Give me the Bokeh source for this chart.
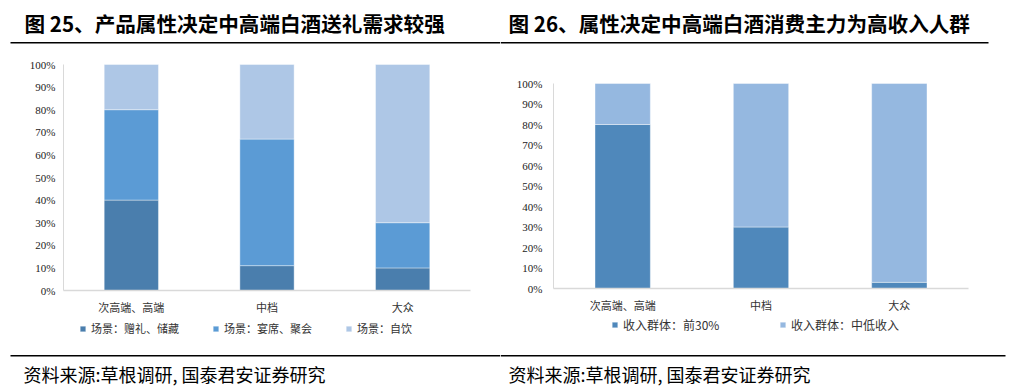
from bokeh.plotting import figure
from bokeh.models import (Range1d, FixedTicker, NumeralTickFormatter, LinearAxis,
                          Legend, LegendItem, Label, BoxAnnotation, ColumnDataSource)
from bokeh.layouts import row
from bokeh.embed import file_html
from bokeh.resources import INLINE

# ---------------- data ----------------
cats = ["次高端、高端", "中档", "大众"]

left_series = ["场景：赠礼、储藏", "场景：宴席、聚会", "场景：自饮"]
left_gift = [0.40, 0.11, 0.10]
left_banquet = [0.40, 0.56, 0.20]
left_self = [0.20, 0.33, 0.70]

right_series = ["收入群体：前30%", "收入群体：中低收入"]
right_top30 = [0.80, 0.30, 0.03]
right_low = [0.20, 0.70, 0.97]

title_left = "图 25、产品属性决定中高端白酒送礼需求较强"
title_right = "图 26、属性决定中高端白酒消费主力为高收入人群"
source_text = "资料来源:草根调研, 国泰君安证券研究"

y_ticks = [i / 10 for i in range(11)]

CJK = "Noto Sans CJK SC"
SERIF = "Liberation Serif"
H = 388


def chart(width, fig_left, plot_l, plot_r, plot_top, plot_bottom, ylab_standoff):
    """Figure whose frame is the whole canvas; chart area given in page pixels."""
    n = len(cats)
    ppx = (plot_r - plot_l) / n
    ppy = (plot_bottom - plot_top)
    x0 = -(plot_l - fig_left) / ppx
    x1 = n + (fig_left + width - plot_r) / ppx
    y0 = -(H - plot_bottom) / ppy
    y1 = 1 + plot_top / ppy
    p = figure(width=width, height=H, x_range=Range1d(x0, x1), y_range=Range1d(y0, y1),
               output_backend="svg", toolbar_location=None, min_border=0,
               x_axis_location=None, y_axis_location=None)
    p.outline_line_color = None
    for g in p.grid:
        g.visible = False

    ya = LinearAxis(fixed_location=0, bounds=(0, 1), ticker=FixedTicker(ticks=y_ticks),
                    formatter=NumeralTickFormatter(format="0%"))
    ya.major_label_text_font = SERIF
    ya.major_label_text_font_size = "11px"
    ya.major_label_text_color = "#222222"
    ya.major_label_standoff = ylab_standoff
    ya.major_tick_out = 0
    ya.major_tick_in = 0
    ya.minor_tick_out = 0
    ya.minor_tick_in = 0
    ya.major_tick_line_color = None
    ya.minor_tick_line_color = None
    ya.axis_line_color = "#d9d9d9"
    p.add_layout(ya, "left")

    xa = LinearAxis(fixed_location=0, bounds=(0, n),
                    ticker=FixedTicker(ticks=[i + 0.5 for i in range(n)]),
                    major_label_overrides={i + 0.5: c for i, c in enumerate(cats)})
    xa.major_label_text_font = CJK
    xa.major_label_text_font_size = "11px"
    xa.major_label_text_color = "#333333"
    xa.major_label_standoff = 8
    xa.major_tick_out = 0
    xa.major_tick_in = 0
    xa.minor_tick_out = 0
    xa.minor_tick_in = 0
    xa.major_tick_line_color = None
    xa.minor_tick_line_color = None
    xa.axis_line_color = "#d9d9d9"
    xa.axis_line_width = 1.5
    p.add_layout(xa, "below")
    return p


def decorate(p, fig_left, title, title_x, line_l, line_r, bline_l, bline_r, src_x):
    def sy(y):
        return H - y
    p.add_layout(Label(x=title_x - fig_left, y=sy(22), x_units="screen", y_units="screen",
                       text=title, text_font=CJK, text_font_size="20.6px",
                       text_font_style="bold", text_color="black", text_baseline="middle"))
    p.add_layout(BoxAnnotation(left=line_l - fig_left, right=line_r - fig_left,
                               bottom=sy(43), top=sy(41.5),
                               left_units="screen", right_units="screen",
                               bottom_units="screen", top_units="screen",
                               fill_color="black", fill_alpha=1, line_color=None))
    p.add_layout(BoxAnnotation(left=bline_l - fig_left, right=bline_r - fig_left,
                               bottom=sy(356), top=sy(354.5),
                               left_units="screen", right_units="screen",
                               bottom_units="screen", top_units="screen",
                               fill_color="black", fill_alpha=1, line_color=None))
    p.add_layout(Label(x=src_x - fig_left, y=sy(373), x_units="screen", y_units="screen",
                       text=source_text, text_font=CJK, text_font_size="18px",
                       text_color="black", text_baseline="middle"))


xs = [i + 0.5 for i in range(len(cats))]

# ---------------- left chart ----------------
p1 = chart(500, 0, 63, 470, 64, 290, 8)
src1 = ColumnDataSource(dict(x=xs, a=left_gift, b=left_banquet, c=left_self))
r1 = p1.vbar_stack(["a", "b", "c"], x="x", width=0.4, source=src1,
                   color=["#4A7EAD", "#5B9BD5", "#AEC7E6"],
                   line_color="white", line_alpha=0.4, line_width=1)
leg1 = Legend(items=[LegendItem(label=left_series[i], renderers=[r1[i]]) for i in range(3)],
              orientation="horizontal", location=(79, H - 336), padding=0, margin=0, spacing=0,
              glyph_width=7, glyph_height=7, label_standoff=5, label_width=121, label_height=14,
              label_text_font=CJK, label_text_font_size="11px", label_text_color="#333333",
              border_line_color=None, background_fill_alpha=0)
p1.add_layout(leg1, "center")
decorate(p1, 0, title_left, 24, 10, 500, 10, 500, 23)

# ---------------- right chart ----------------
p2 = chart(528, 500, 553, 968, 83, 288, 11)
src2 = ColumnDataSource(dict(x=xs, a=right_top30, b=right_low))
r2 = p2.vbar_stack(["a", "b"], x="x", width=0.4, source=src2,
                   color=["#4F88BB", "#95B8E0"],
                   line_color="white", line_alpha=0.4, line_width=1)
leg2 = Legend(items=[LegendItem(label=right_series[i], renderers=[r2[i]]) for i in range(2)],
              orientation="horizontal", location=(111, H - 333), padding=0, margin=0, spacing=0,
              glyph_width=7, glyph_height=7, label_standoff=5, label_width=156, label_height=14,
              label_text_font=CJK, label_text_font_size="12px", label_text_color="#333333",
              border_line_color=None, background_fill_alpha=0)
p2.add_layout(leg2, "center")
decorate(p2, 500, title_right, 508, 500, 988, 500, 1005, 508)

layout = row(p1, p2, spacing=0)
open("out.html", "w").write(file_html(layout, INLINE))
